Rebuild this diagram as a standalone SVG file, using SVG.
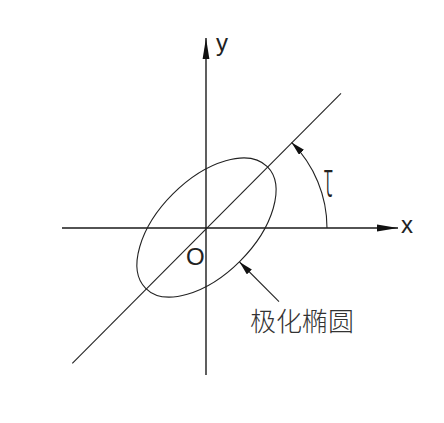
<svg xmlns="http://www.w3.org/2000/svg" width="444" height="423" viewBox="0 0 444 423">
<style>
.ln{stroke:#222;fill:none;stroke-width:1.1}
.ax{stroke:#1a1a1a;fill:none;stroke-width:1.4}
.lbl{font-family:"Liberation Sans",Arial,sans-serif;font-size:24px;fill:#222}
.tau{font-family:"Noto Sans","DejaVu Sans",sans-serif;font-size:40px;font-weight:300;fill:#222}
.cjk{font-family:"Noto Sans CJK SC",sans-serif;font-size:26px;font-weight:300;fill:#333}
</style>
<defs>
<marker id="ah" markerUnits="userSpaceOnUse" markerWidth="21" markerHeight="8" refX="21" refY="4" orient="auto" viewBox="0 0 21 8">
<path d="M0,0.6 L21,4 L0,7.4 z" fill="#111"/>
</marker>
<marker id="ah2" markerUnits="userSpaceOnUse" markerWidth="14" markerHeight="7" refX="14" refY="3.5" orient="auto" viewBox="0 0 14 7">
<path d="M0,0 L14,3.5 L0,7 z" fill="#111"/>
</marker>
</defs>
<g id="axes">
<line id="x-axis" class="ax" x1="62" y1="228" x2="398" y2="228" marker-end="url(#ah)"/>
<line id="y-axis" class="ax" x1="206" y1="375" x2="206" y2="38" marker-end="url(#ah)"/>
</g>
<g id="connectors">
<line class="ln" x1="72.3" y1="363.3" x2="341" y2="93.3"/>
<path class="ln" d="M327,228 A121,121 0 0 0 291.6,142.4" marker-end="url(#ah2)"/>
<line class="ln" x1="279" y1="301.7" x2="239.5" y2="262" marker-end="url(#ah2)"/>
</g>
<g id="ellipse">
<ellipse class="ln" cx="206.5" cy="227.5" rx="86" ry="47.5" transform="rotate(-45 206.5 227.5)"/>
</g>
<g id="labels">
<text class="lbl" x="216" y="51">y</text>
<text class="lbl" x="401" y="233">x</text>
<text class="lbl" x="186" y="265">O</text>
<text class="tau" transform="translate(324,197) scale(0.5,1.25)">τ</text>
<text class="cjk" x="250" y="331">极化椭圆</text>
</g>
</svg>
